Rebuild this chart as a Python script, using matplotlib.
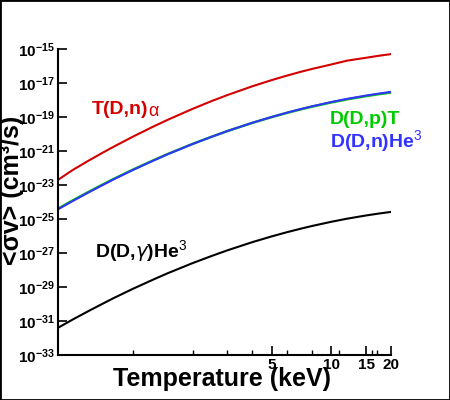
import numpy as np
import matplotlib
matplotlib.use("Agg")
import matplotlib.pyplot as plt
from matplotlib.patches import Rectangle

plt.rcParams['font.family'] = ['Liberation Sans', 'DejaVu Sans']
plt.rcParams['mathtext.fontset'] = 'custom'
plt.rcParams['mathtext.rm'] = 'Liberation Sans'
plt.rcParams['mathtext.bf'] = 'Liberation Sans:bold'

# temperature grid (keV) the curves were read at
temp = [0.42, 0.5, 0.6, 0.7, 0.8, 1, 1.25, 1.5, 2, 2.5, 3, 4, 5, 6, 7, 8, 10, 12, 15, 17.5, 20]

# reactivities <sigma v> in cm^3/s
dt_n = [2.0e-23, 7.85e-23, 2.74e-22, 7.59e-22, 1.77e-21, 6.92e-21, 2.51e-20, 6.84e-20,
        3.0e-19, 8.69e-19, 1.96e-18, 6.40e-18, 1.47e-17, 2.75e-17, 4.51e-17, 6.71e-17,
        1.23e-16, 2.06e-16, 3.06e-16, 4.06e-16, 5.0e-16]
dd_p = [4.05e-25, 1.27e-24, 3.98e-24, 1.02e-23, 2.26e-23, 7.94e-23, 2.61e-22, 6.64e-22,
        2.61e-21, 6.95e-21, 1.49e-20, 4.50e-20, 9.79e-20, 1.76e-19, 2.79e-19, 4.05e-19,
        7.16e-19, 1.09e-18, 1.70e-18, 2.23e-18, 2.74e-18]
dd_n = [3.72e-25, 1.17e-24, 3.72e-24, 9.55e-24, 2.14e-23, 7.59e-23, 2.51e-22, 6.46e-22,
        2.57e-21, 6.92e-21, 1.50e-20, 4.57e-20, 1.0e-19, 1.82e-19, 2.90e-19, 4.25e-19,
        7.59e-19, 1.16e-18, 1.83e-18, 2.42e-18, 3.0e-18]
dd_g = [3.98e-32, 1.25e-31, 3.91e-31, 9.95e-31, 2.21e-30, 7.76e-30, 2.54e-29, 6.46e-29,
        2.53e-28, 6.73e-28, 1.44e-27, 4.34e-27, 9.42e-27, 1.69e-26, 2.67e-26, 3.88e-26,
        6.85e-26, 1.04e-25, 1.62e-25, 2.12e-25, 2.61e-25]

xticks = [5, 10, 15, 20]
xtick_labels = ['5', '10', '15', '20']
xminor = [1, 2, 3, 4, 6, 8, 11, 16, 17]
yexps = list(range(-33, -14, 2))

fig = plt.figure(figsize=(4.5, 4.0), dpi=100)
ax = fig.add_axes([58/450, 45/400, 333/450, 306/400])

ax.plot(temp, dt_n, color='#d40000', lw=1.5)
ax.plot(temp, dd_p, color='#00cc00', lw=1.8)
ax.plot(temp, dd_n, color='#3333ff', lw=1.5)
ax.plot(temp, dd_g, color='black', lw=1.5)

ax.set_xscale('log')
ax.set_yscale('log')
ax.set_xlim(0.42, 20)
ax.set_ylim(1e-33, 1e-15)

ax.spines['top'].set_visible(False)
ax.spines['right'].set_visible(False)
ax.spines['left'].set_linewidth(1.5)
ax.spines['bottom'].set_linewidth(1.5)

ax.set_xticks(xticks)
ax.set_xticklabels(xtick_labels, fontsize=11, fontweight='bold')
ax.set_xticks(xminor, minor=True)
ax.set_xticklabels([], minor=True)
ax.set_yticks([10.0**e for e in yexps])
ax.set_yticklabels([r'$\mathbf{10^{%d}}$' % e for e in yexps], fontsize=11)
ax.yaxis.set_minor_locator(matplotlib.ticker.NullLocator())
ax.tick_params(axis='both', which='major', direction='in', length=6.5, width=1.2, pad=2)
ax.tick_params(axis='x', which='minor', direction='in', length=3.5, width=1)


def px(x, y):
    # figure pixel position -> axes fraction
    return (x - 58) / 333, 1 - (y - 49) / 306


ax.text(*px(92, 110), 'T(D,n)', transform=ax.transAxes, color='#d40000',
        fontsize=14, fontweight='bold', va='center')
ax.text(*px(148, 111), 'α', transform=ax.transAxes, color='#d40000',
        fontsize=13, va='center')
ax.text(*px(330, 120), 'D(D,p)T', transform=ax.transAxes,
        color='#00cc00', fontsize=14, fontweight='bold', va='center')
ax.text(*px(330, 142), r'D(D,n)He$^{3}$', transform=ax.transAxes,
        color='#3333ff', fontsize=14, fontweight='bold', va='center')
ax.text(*px(95, 252), r'D(D,$\gamma$)He$^{3}$', transform=ax.transAxes,
        color='black', fontsize=14, fontweight='bold', va='center')

fig.text(222/450, 1 - 379/400, 'Temperature (keV)', fontsize=18, fontweight='bold',
         ha='center', va='center')
fig.text(12/450, 1 - 190/400, '<σv> (cm³/s)', fontsize=18, fontweight='bold',
         rotation=90, ha='center', va='center')

fig.add_artist(Rectangle((0, 0), 1, 1, transform=fig.transFigure, fill=False,
                         lw=2, edgecolor='black'))

fig.savefig('out.png', dpi=100)
